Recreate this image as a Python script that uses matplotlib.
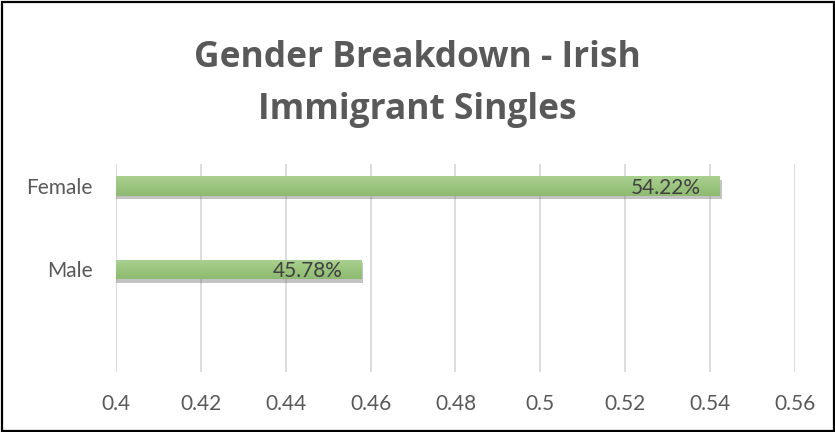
import matplotlib
matplotlib.use("Agg")
import matplotlib.pyplot as plt
import matplotlib.patheffects as pe
import numpy as np
from matplotlib.patches import Rectangle
from matplotlib.colors import LinearSegmentedColormap

categories = ["Male", "Female"]
values = [0.4578, 0.5422]
value_labels = ["45.78%", "54.22%"]
xticks = [0.4, 0.42, 0.44, 0.46, 0.48, 0.5, 0.52, 0.54, 0.56]
xtick_labels = ["0.4", "0.42", "0.44", "0.46", "0.48", "0.5", "0.52", "0.54", "0.56"]
title_lines = ["Gender Breakdown - Irish", "Immigrant Singles"]

plt.rcParams['font.family'] = ['Lato', 'DejaVu Sans']

W, H = 835, 432
fig = plt.figure(figsize=(W/100, H/100), dpi=100)
ax = fig.add_axes([116/W, 1-372/H, (795-116)/W, (372-164)/H])

ypos = np.arange(len(categories))
bars = ax.barh(ypos, values, height=0.23, left=0, color="#9cc585",
               edgecolor="none", zorder=3,
               path_effects=[pe.SimplePatchShadow(offset=(1.5, -2.5), shadow_rgbFace="#7a7a7a", alpha=0.45),
                             pe.Normal()])

# vertical gradient clipped to each bar
grad = np.linspace(0, 1, 64).reshape(-1, 1)
cmap = LinearSegmentedColormap.from_list("g", ["#abd190", "#8dba70"])
for b in bars:
    x0, y0 = b.get_x(), b.get_y()
    w, h = b.get_width(), b.get_height()
    im = ax.imshow(grad, extent=(0.4, x0 + w, y0, y0 + h), cmap=cmap, aspect="auto",
                   origin="upper", zorder=4, interpolation="bicubic")
    im.set_clip_path(b)

for b, lab in zip(bars, value_labels):
    ax.annotate(lab, xy=(b.get_width(), b.get_y() + b.get_height()/2),
                xytext=(-19, 0), textcoords="offset pixels",
                ha="right", va="center_baseline", fontsize=15, color="#404040", zorder=5)

ax.set_xlim(0.4, 0.56)
ax.set_ylim(-1.228, 1.263)
ax.set_xticks(xticks)
ax.set_xticklabels(xtick_labels)
ax.set_yticks(ypos)
ax.set_yticklabels(categories)
ax.tick_params(axis="both", length=0, labelsize=15, colors="#595959")
ax.tick_params(axis="x", pad=16)
ax.tick_params(axis="y", pad=17)
ax.grid(axis="x", color="#d9d9d9", linewidth=1.3, zorder=0)
ax.set_axisbelow(True)
for s in ax.spines.values():
    s.set_visible(False)
ax.set_facecolor("none")

fig.text(0.5, 1-67/H, title_lines[0], ha="center", va="baseline",
         fontsize=25.5, fontweight="bold", color="#595959", family=["Open Sans", "DejaVu Sans"])
fig.text(0.5, 1-119/H, title_lines[1], ha="center", va="baseline",
         fontsize=25.5, fontweight="bold", color="#595959", family=["Open Sans", "DejaVu Sans"])

fig.patches.append(Rectangle((1.5/W, 1.5/H), 1-3/W, 1-3/H, transform=fig.transFigure,
                             fill=False, edgecolor="black", linewidth=1.6))

fig.savefig("out.png", dpi=100, facecolor="white")
